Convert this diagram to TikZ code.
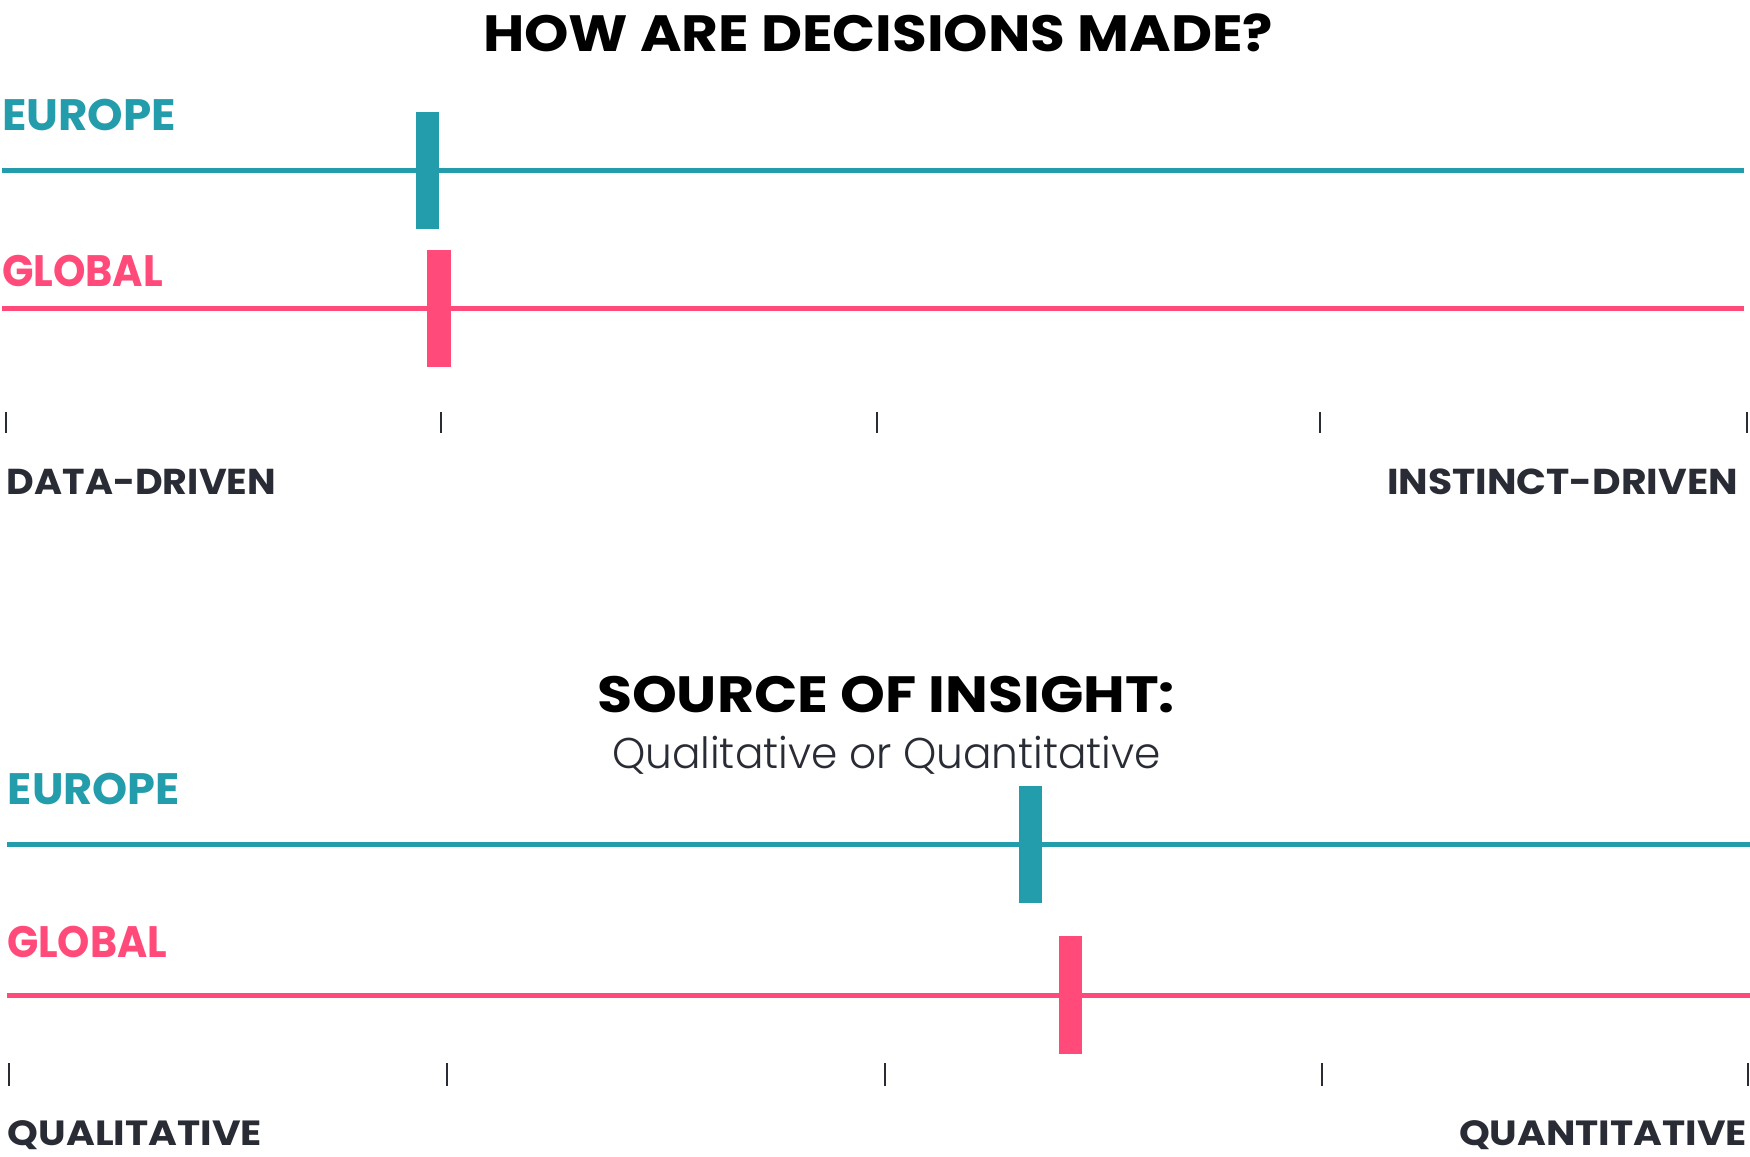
\documentclass[tikz,border=0pt]{standalone}
\usepackage{fontspec}
\usepackage{graphicx}
\newfontfamily\popf{Poppins}
\IfFontExistsTF{Poppins Light}{\newfontfamily\lightf{Poppins Light}}{\newfontfamily\lightf{Poppins}}
\definecolor{eucol}{HTML}{239DAB}
\definecolor{glcol}{HTML}{FF4A7A}
\definecolor{darktxt}{HTML}{2A2C35}
\definecolor{tickc}{HTML}{2A2C35}
\newcommand\fitto[3]{\resizebox{#1pt}{\height}{\popf\fontsize{#2}{#2}\selectfont #3}}
\begin{document}
\begin{tikzpicture}[x=1pt,y=-1pt,
  lbl/.style={inner sep=0pt, outer sep=0pt, anchor=base west},
  axis/.style={line width=5pt},
  tickm/.style={line width=1.5pt, draw=tickc},
  markbar/.style={inner sep=0pt, outer sep=0pt, minimum width=23.5pt, minimum height=117.5pt, fill=#1}]
\useasboundingbox[fill=white] (0,0) rectangle (1750,1156);

% ---------- top chart ----------
\node[lbl] (t1) at (483,52) {\fitto{790}{51}{\bfseries HOW ARE DECISIONS MADE?}};
\node[lbl, text=eucol] (eu1) at (2,130) {\fitto{174}{44}{\bfseries EUROPE}};
\node[lbl, text=glcol] (gl1) at (2,286) {\fitto{161}{44}{\bfseries GLOBAL}};

\coordinate (e1a) at (2,170.5);  \coordinate (e1b) at (1744,170.5);
\coordinate (g1a) at (2,308.5);  \coordinate (g1b) at (1744,308.5);
\draw[axis, eucol] (e1a) -- (e1b);
\draw[axis, glcol] (g1a) -- (g1b);
\node[markbar=eucol] (em1) at (427.5,170.5) {};
\node[markbar=glcol] (gm1) at (439,308.5) {};

\foreach \x [count=\i] in {6,441,877,1320,1747} {
  \coordinate (ta\i) at (\x,412); \coordinate (tb\i) at (\x,433);
  \draw[tickm] (ta\i) -- (tb\i);
}
\node[lbl, text=darktxt] (dd) at (7,494) {\fitto{269}{36}{\bfseries DATA-DRIVEN}};
\node[lbl, anchor=base east, text=darktxt] (id) at (1738,494) {\fitto{351}{36}{\bfseries INSTINCT-DRIVEN}};

% ---------- bottom chart ----------
\node[lbl] (t2) at (597,712) {\fitto{578}{51}{\bfseries SOURCE OF INSIGHT:}};
\node[lbl, text=darktxt] (sub) at (612,768) {\fitto{549}{43}{\lightf Qualitative or Quantitative}};
\node[lbl, text=eucol] (eu2) at (8,804) {\fitto{172}{44}{\bfseries EUROPE}};
\node[lbl, text=glcol] (gl2) at (7,957) {\fitto{160}{44}{\bfseries GLOBAL}};

\coordinate (e2a) at (7,844.5);  \coordinate (e2b) at (1750,844.5);
\coordinate (g2a) at (7,995);    \coordinate (g2b) at (1750,995);
\draw[axis, eucol] (e2a) -- (e2b);
\draw[axis, glcol] (g2a) -- (g2b);
\node[markbar=eucol] (em2) at (1030.5,844.5) {};
\node[markbar=glcol] (gm2) at (1070.5,995) {};

\foreach \x [count=\i] in {9,447,885,1322,1748} {
  \coordinate (tc\i) at (\x,1063); \coordinate (td\i) at (\x,1086);
  \draw[tickm] (tc\i) -- (td\i);
}
\node[lbl, text=darktxt] (ql) at (8,1145) {\fitto{254}{35}{\bfseries QUALITATIVE}};
\node[lbl, anchor=base east, text=darktxt] (qn) at (1747,1145) {\fitto{288}{35}{\bfseries QUANTITATIVE}};
\end{tikzpicture}
\end{document}
